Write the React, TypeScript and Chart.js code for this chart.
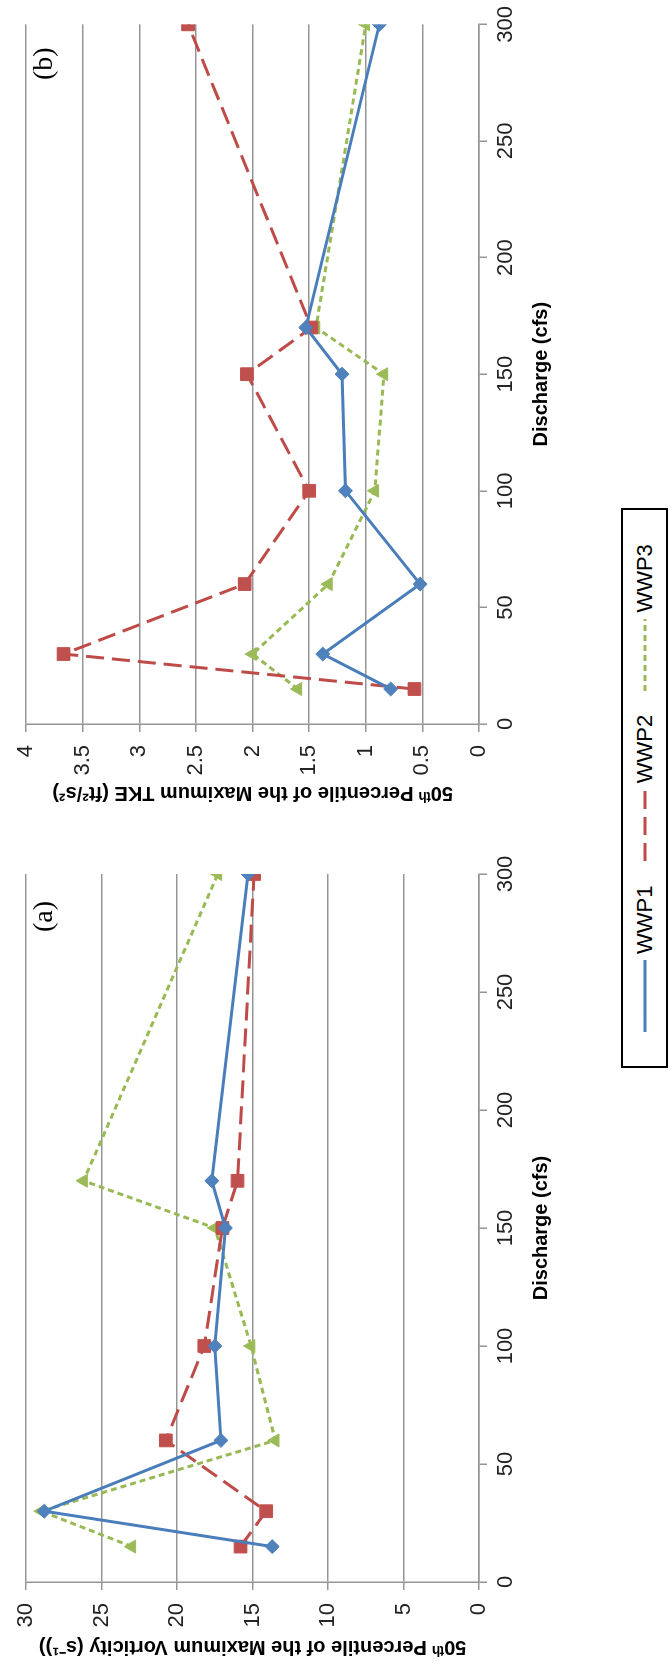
import React, { useEffect, useRef } from 'react';
import { Chart, registerables } from 'chart.js';

Chart.register(...registerables);

// ---------- data ----------
const discharge = [15, 30, 60, 100, 150, 170, 300];
const seriesNames = ['WWP1', 'WWP2', 'WWP3'];

const vorticityWWP1 = [13.7, 28.8, 17.1, 17.5, 16.8, 17.7, 15.3];
const vorticityWWP2 = [15.8, 14.1, 20.75, 18.2, 17.0, 16.0, 14.9];
const vorticityWWP3 = [23.0, 29.0, 13.5, 15.1, 17.5, 26.2, 17.3];

const tkeWWP1 = [0.78, 1.38, 0.52, 1.18, 1.21, 1.53, 0.88];
const tkeWWP2 = [0.57, 3.67, 2.07, 1.5, 2.05, 1.48, 2.57];
const tkeWWP3 = [1.6, 2.0, 1.33, 0.92, 0.84, 1.44, 1.0];

const xTitle = 'Discharge (cfs)';
const vorticityTitle = '50ᵗʰ Percentile of the Maximum Vorticity (s⁻¹))';
const tkeTitle = '50ᵗʰ Percentile of the Maximum TKE (ft²/s²)';

// ---------- styles ----------
const FONT = "'Liberation Sans Narrow', 'Liberation Sans', Arial, sans-serif";
const SERIF = "'Liberation Serif', 'DejaVu Serif', serif";
const colors = ['#4A7EBB', '#BE4B48', '#98B954'];
const fills = ['#4F81BD', '#C0504D', '#9BBB59'];
const dashes: number[][] = [[], [18, 8], [6, 4]];
const pointStyles = ['rectRot', 'rect', 'triangle'];
const pointRadii = [7, 9, 7.5];
const GRID = '#959595';

function buildConfig(series: number[][], yMax: number, yStep: number, yTitle: string, yWidth: number, yTitlePad: number, rightPad: number): any {
  return {
    type: 'line',
    data: {
      datasets: series.map((vals, i) => ({
        label: seriesNames[i],
        data: discharge.map((x, j) => ({ x, y: vals[j] })),
        borderColor: colors[i],
        backgroundColor: fills[i],
        borderWidth: 3,
        borderDash: dashes[i],
        pointStyle: pointStyles[i],
        pointRadius: pointRadii[i],
        pointBorderWidth: 1,
        pointBorderColor: fills[i],
        pointBackgroundColor: fills[i],
        tension: 0,
      })),
    },
    options: {
      responsive: false,
      animation: false,
      devicePixelRatio: 1,
      layout: { padding: { top: 14, right: rightPad, left: 0, bottom: 0 } },
      plugins: { legend: { display: false }, tooltip: { enabled: false } },
      scales: {
        x: {
          type: 'linear',
          min: 0,
          max: 300,
          ticks: { stepSize: 50, color: '#222', font: { family: FONT, size: 22 }, padding: 6, maxRotation: 0 },
          grid: { drawOnChartArea: false, drawTicks: true, tickLength: 8, color: GRID, lineWidth: 1.5 },
          border: { display: true, color: GRID, width: 1.5 },
          title: { display: true, text: xTitle, color: '#000', font: { family: FONT, size: 20, weight: 'bold' }, padding: { top: 0, bottom: 47 } },
          afterFit: (s: any) => { s.height = 121; },
        },
        y: {
          type: 'linear',
          min: 0,
          max: yMax,
          ticks: {
            stepSize: yStep,
            color: '#222',
            font: { family: FONT, size: 22 },
            padding: 13,
            callback: (v: any) => String(Number(v)),
          },
          grid: { drawTicks: true, tickLength: 8, color: GRID, lineWidth: 1.5 },
          border: { display: true, color: GRID, width: 1.5 },
          title: { display: true, text: yTitle, color: '#000', font: { family: FONT, size: 20, weight: 'bold' }, padding: { top: yTitlePad, bottom: 0 } },
          afterFit: (s: any) => { s.width = yWidth; },
        },
      },
    },
  };
}

function ChartCanvas({ config, width, height, left }: { config: any; width: number; height: number; left: number }) {
  const ref = useRef<HTMLCanvasElement | null>(null);
  useEffect(() => {
    if (!ref.current) return;
    const chart = new Chart(ref.current, config);
    return () => chart.destroy();
  }, [config]);
  return (
    <canvas
      ref={ref}
      width={width}
      height={height}
      style={{ position: 'absolute', left, top: 0, width, height }}
    />
  );
}

const configA = buildConfig([vorticityWWP1, vorticityWWP2, vorticityWWP3], 30, 5, vorticityTitle, 87, 10, 45);
const configB = buildConfig([tkeWWP1, tkeWWP2, tkeWWP3], 4, 0.5, tkeTitle, 105, 24, 22);

function LegendItem({ i }: { i: number }) {
  return (
    <div style={{ display: 'flex', alignItems: 'center' }}>
      <svg width={72} height={10} style={{ display: 'block' }}>
        <line x1={0} y1={5} x2={72} y2={5} stroke={colors[i]} strokeWidth={3} strokeDasharray={dashes[i].length ? dashes[i].join(' ') : undefined} />
      </svg>
      <span style={{ marginLeft: 6, fontFamily: FONT, fontSize: 22, color: '#000' }}>{seriesNames[i]}</span>
    </div>
  );
}

export default function App() {
  useEffect(() => {
    document.body.style.margin = '0';
  }, []);
  return (
    <div style={{ position: 'absolute', left: 0, top: 0, width: 669, height: 1669, overflow: 'hidden', background: '#fff' }}>
      <div
        style={{
          position: 'absolute',
          left: 0,
          top: 0,
          width: 1669,
          height: 669,
          transformOrigin: '0 0',
          transform: 'translateY(1669px) rotate(-90deg)',
          background: '#fff',
        }}
      >
        <ChartCanvas config={configA} width={840} height={600} left={0} />
        <ChartCanvas config={configB} width={829} height={600} left={840} />
        <div style={{ position: 'absolute', left: 737, top: 23, fontFamily: SERIF, fontSize: 28, lineHeight: '40px', color: '#000' }}>(a)</div>
        <div style={{ position: 'absolute', left: 1589, top: 23, fontFamily: SERIF, fontSize: 28, lineHeight: '40px', color: '#000' }}>(b)</div>
        <div
          style={{
            position: 'absolute',
            left: 601,
            top: 621,
            width: 560,
            height: 47,
            boxSizing: 'border-box',
            border: '2px solid #000',
            display: 'flex',
            alignItems: 'center',
            justifyContent: 'space-around',
            padding: '0 22px',
          }}
        >
          <LegendItem i={0} />
          <LegendItem i={1} />
          <LegendItem i={2} />
        </div>
      </div>
    </div>
  );
}
